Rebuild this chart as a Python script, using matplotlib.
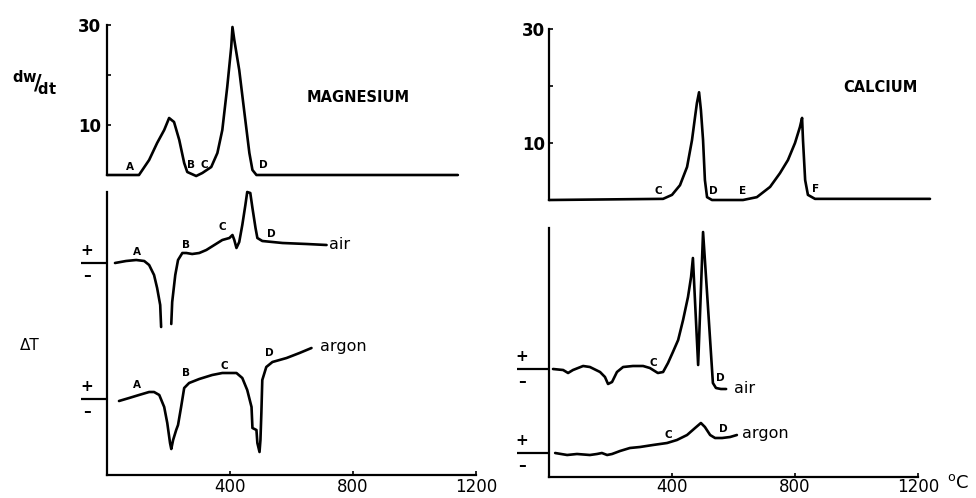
import numpy as np
import matplotlib
matplotlib.use("Agg")
import matplotlib.pyplot as plt

# ---------------- data ----------------
# Magnesium, rate of weight change dw/dt vs temperature (°C)
mg_dw_T = [0, 104, 137, 163, 186, 202, 218, 235, 251, 261, 290, 310, 339, 359, 375,
           391, 404, 408, 414, 430, 447, 463, 473, 486, 1141]
mg_dw_v = [0, 0, 3.0, 6.4, 9.0, 11.4, 10.6, 7.0, 2.4, 0.6, -0.2, 0.4, 1.6, 4.4, 9.0,
           17.6, 25.6, 29.6, 27.0, 21.0, 12.4, 4.4, 1.0, 0, 0]

# Magnesium DTA in air (arbitrary units, NaN = off scale)
mg_air_T = [26, 62, 95, 121, 137, 153, 163, 173, 176, np.nan, 209, 212, 222, 231, 245,
            258, 277, 300, 323, 349, 375, 398, 408, 414, 421, 430, 440, 450, 456,
            466, 473, 483, 489, 505, 571, 649, 714]
mg_air_v = [0.0, 0.2, 0.3, 0.2, -0.2, -1.2, -2.5, -4.2, -6.4, np.nan, -6.1, -3.9, -1.2,
            0.3, 1.0, 1.0, 0.9, 1.0, 1.3, 1.8, 2.3, 2.5, 2.8, 2.3, 1.5, 2.1, 3.8, 5.8,
            7.1, 7.0, 5.5, 3.5, 2.5, 2.2, 2.0, 1.9, 1.8]

# Magnesium DTA in argon
mg_ar_T = [39, 72, 104, 137, 153, 170, 186, 196, 205, 209, 215, 225, 231, 241, 251,
           267, 300, 342, 375, 421, 440, 456, 470, 473, 486, 489, 496, 499, 502, 505,
           518, 538, 584, 626, 665]
mg_ar_v = [-0.2, 0.1, 0.4, 0.7, 0.7, 0.4, -0.8, -2.4, -4.4, -5.0, -4.1, -3.1, -2.6,
           -0.8, 1.1, 1.6, 2.0, 2.4, 2.6, 2.6, 2.1, 0.9, -0.8, -2.9, -3.1, -4.4, -5.3,
           -4.1, -1.4, 1.9, 3.2, 3.7, 4.1, 4.6, 5.1]

# Calcium, dw/dt
ca_dw_T = [0, 371, 400, 426, 449, 465, 475, 481, 488, 494, 501, 507, 514, 530, 631,
           676, 719, 751, 777, 800, 816, 823, 826, 833, 842, 865, 1239]
ca_dw_v = [0, 0.2, 0.9, 2.6, 5.8, 10.5, 14.6, 17.0, 18.9, 15.8, 10.5, 3.5, 0.5, 0, 0,
           0.5, 2.3, 4.7, 7.0, 10.0, 12.8, 14.4, 10.5, 3.5, 0.9, 0.2, 0.2]

# Calcium DTA in air
ca_air_T = [13, 46, 62, 78, 111, 133, 166, 182, 192, 205, 221, 241, 273, 306, 328,
            354, 371, 387, 403, 420, 436, 452, 462, 468, 485, 501, 517, 533, 543,
            559, 576]
ca_air_v = [0.0, -0.1, -0.4, -0.1, 0.3, 0.2, -0.3, -0.8, -1.5, -1.3, -0.3, 0.2, 0.3,
            0.3, 0.1, -0.4, -0.3, 0.6, 1.7, 2.9, 4.9, 7.2, 9.2, 11.1, 0.4, 13.7, 6.2,
            -1.4, -1.9, -2.0, -2.0]

# Calcium DTA in argon
ca_ar_T = [20, 59, 91, 133, 156, 172, 189, 205, 231, 263, 296, 338, 384, 416, 449,
           475, 494, 507, 524, 540, 563, 589, 611]
ca_ar_v = [0.0, -0.2, -0.1, -0.2, -0.1, 0.0, -0.2, -0.1, 0.2, 0.5, 0.6, 0.8, 1.0, 1.3,
           1.8, 2.5, 3.0, 2.6, 1.8, 1.5, 1.5, 1.6, 1.8]

x_ticks = [400, 800, 1200]
x_tick_labels = ["400", "800", "1200"]

# ---------------- figure ----------------
W, H = 976, 498
fig = plt.figure(figsize=(W / 100, H / 100), dpi=100)
fig.patch.set_facecolor("white")
plt.rcParams["font.family"] = ["DejaVu Sans"]

LW = 1.9
SPW = 1.6


def add_ax(x0, x1, ytop, ybot):
    ax = fig.add_axes([x0 / W, 1 - ybot / H, (x1 - x0) / W, (ybot - ytop) / H])
    ax.set_facecolor("none")
    for s in ["top", "right"]:
        ax.spines[s].set_visible(False)
    for s in ["left", "bottom"]:
        ax.spines[s].set_linewidth(SPW)
    return ax


def base_marks(ax, off, xl, xp):
    ax.plot([xl, 0], [off, off], color="black", lw=SPW, clip_on=False,
            solid_capstyle="butt")
    ax.text(xp, off + 1.25, "+", ha="center", va="center", fontsize=11,
            fontweight="bold", clip_on=False)
    ax.text(xp, off - 1.25, "\u2013", ha="center", va="center", fontsize=11,
            fontweight="bold", clip_on=False)


lab_kw = dict(fontsize=7.5, fontweight="bold", ha="center", va="center")
curve_kw = dict(color="black", lw=LW, clip_on=False, solid_joinstyle="round",
                solid_capstyle="round")

# ---- left top: Magnesium dw/dt ----
ax1 = add_ax(107, 476, 25, 175)
ax1.set_xlim(0, 1200)
ax1.set_ylim(0, 30)
ax1.spines["bottom"].set_visible(False)
ax1.plot(mg_dw_T, mg_dw_v, **curve_kw)
ax1.set_xticks([])
ax1.set_yticks([10, 20, 30])
ax1.set_yticklabels(["10", "", "30"], fontsize=12, fontweight="bold")
ax1.tick_params(axis="y", direction="in", length=3, width=1.2, pad=4)
for t, s, y in [(75, "A", 1.7), (272, "B", 1.9), (318, "C", 1.9), (508, "D", 2.0)]:
    ax1.text(t, y, s, **lab_kw)

# ---- left bottom: Magnesium DTA ----
ax2 = add_ax(107, 476, 192, 475)
ax2.set_xlim(0, 1200)
ax2.set_ylim(0, 28.3)
air_off_l, ar_off_l = 21.2, 7.6
ax2.plot(mg_air_T, np.array(mg_air_v) + air_off_l, **curve_kw)
ax2.plot(mg_ar_T, np.array(mg_ar_v) + ar_off_l, **curve_kw)
ax2.set_xticks(x_ticks)
ax2.set_xticklabels(x_tick_labels, fontsize=12)
ax2.set_yticks([])
ax2.tick_params(axis="x", direction="in", length=3, width=1.2, pad=2)
base_marks(ax2, air_off_l, -85, -65)
base_marks(ax2, ar_off_l, -85, -65)
for t, s, y in [(98, "A", 1.1), (258, "B", 1.8), (375, "C", 3.6), (535, "D", 2.9)]:
    ax2.text(t, y + air_off_l, s, **lab_kw)
for t, s, y in [(98, "A", 1.4), (258, "B", 2.6), (381, "C", 3.3), (528, "D", 4.6)]:
    ax2.text(t, y + ar_off_l, s, **lab_kw)
ax2.text(722, 1.9 + air_off_l, "air", fontsize=11.5, ha="left", va="center")
ax2.text(693, 5.3 + ar_off_l, "argon", fontsize=11.5, ha="left", va="center")

# ---- right top: Calcium dw/dt ----
ax3 = add_ax(549, 918, 29, 200)
ax3.set_xlim(0, 1200)
ax3.set_ylim(0, 30)
ax3.spines["bottom"].set_visible(False)
ax3.plot(ca_dw_T, ca_dw_v, **curve_kw)
ax3.set_xticks([])
ax3.set_yticks([10, 20, 30])
ax3.set_yticklabels(["10", "", "30"], fontsize=12, fontweight="bold")
ax3.tick_params(axis="y", direction="in", length=3, width=1.2, pad=3)
for t, s, y in [(354, "C", 1.5), (535, "D", 1.5), (630, "E", 1.5), (866, "F", 2.0)]:
    ax3.text(t, y, s, **lab_kw)

# ---- right bottom: Calcium DTA ----
ax4 = add_ax(549, 918, 228, 477)
ax4.set_xlim(0, 1200)
ax4.set_ylim(0, 24.9)
air_off_r, ar_off_r = 10.8, 2.4
ax4.plot(ca_air_T, np.array(ca_air_v) + air_off_r, **curve_kw)
ax4.plot(ca_ar_T, np.array(ca_ar_v) + ar_off_r, **curve_kw)
ax4.set_xticks(x_ticks)
ax4.set_xticklabels(x_tick_labels, fontsize=12)
ax4.set_yticks([])
ax4.tick_params(axis="x", direction="in", length=3, width=1.2, pad=1)
base_marks(ax4, air_off_r, -104, -88)
base_marks(ax4, ar_off_r, -104, -88)
ax4.text(338, 0.6 + air_off_r, "C", **lab_kw)
ax4.text(556, -0.9 + air_off_r, "D", **lab_kw)
ax4.text(602, -1.9 + air_off_r, "air", fontsize=11.5, ha="left", va="center")
ax4.text(387, 1.8 + ar_off_r, "C", **lab_kw)
ax4.text(566, 2.4 + ar_off_r, "D", **lab_kw)
ax4.text(628, 2.0 + ar_off_r, "argon", fontsize=11.5, ha="left", va="center")

# ---- figure-level labels ----
fig.text(35 / W, 1 - 83 / H, r"$\mathregular{^{dw}\!/\!_{dt}}$", fontsize=15,
         ha="center", va="center", fontweight="bold")
fig.text(30 / W, 1 - 345 / H, "\u0394T", fontsize=11, ha="center", va="center")
fig.text(358 / W, 1 - 97 / H, "MAGNESIUM", fontsize=10.5, fontweight="bold",
         ha="center", va="center")
fig.text(880 / W, 1 - 87 / H, "CALCIUM", fontsize=10.5, fontweight="bold",
         ha="center", va="center")
fig.text(958 / W, 1 - 483 / H, r"$\mathregular{^{o}}$C", fontsize=13,
         ha="center", va="center")

fig.savefig("out.png", dpi=100, facecolor="white")
